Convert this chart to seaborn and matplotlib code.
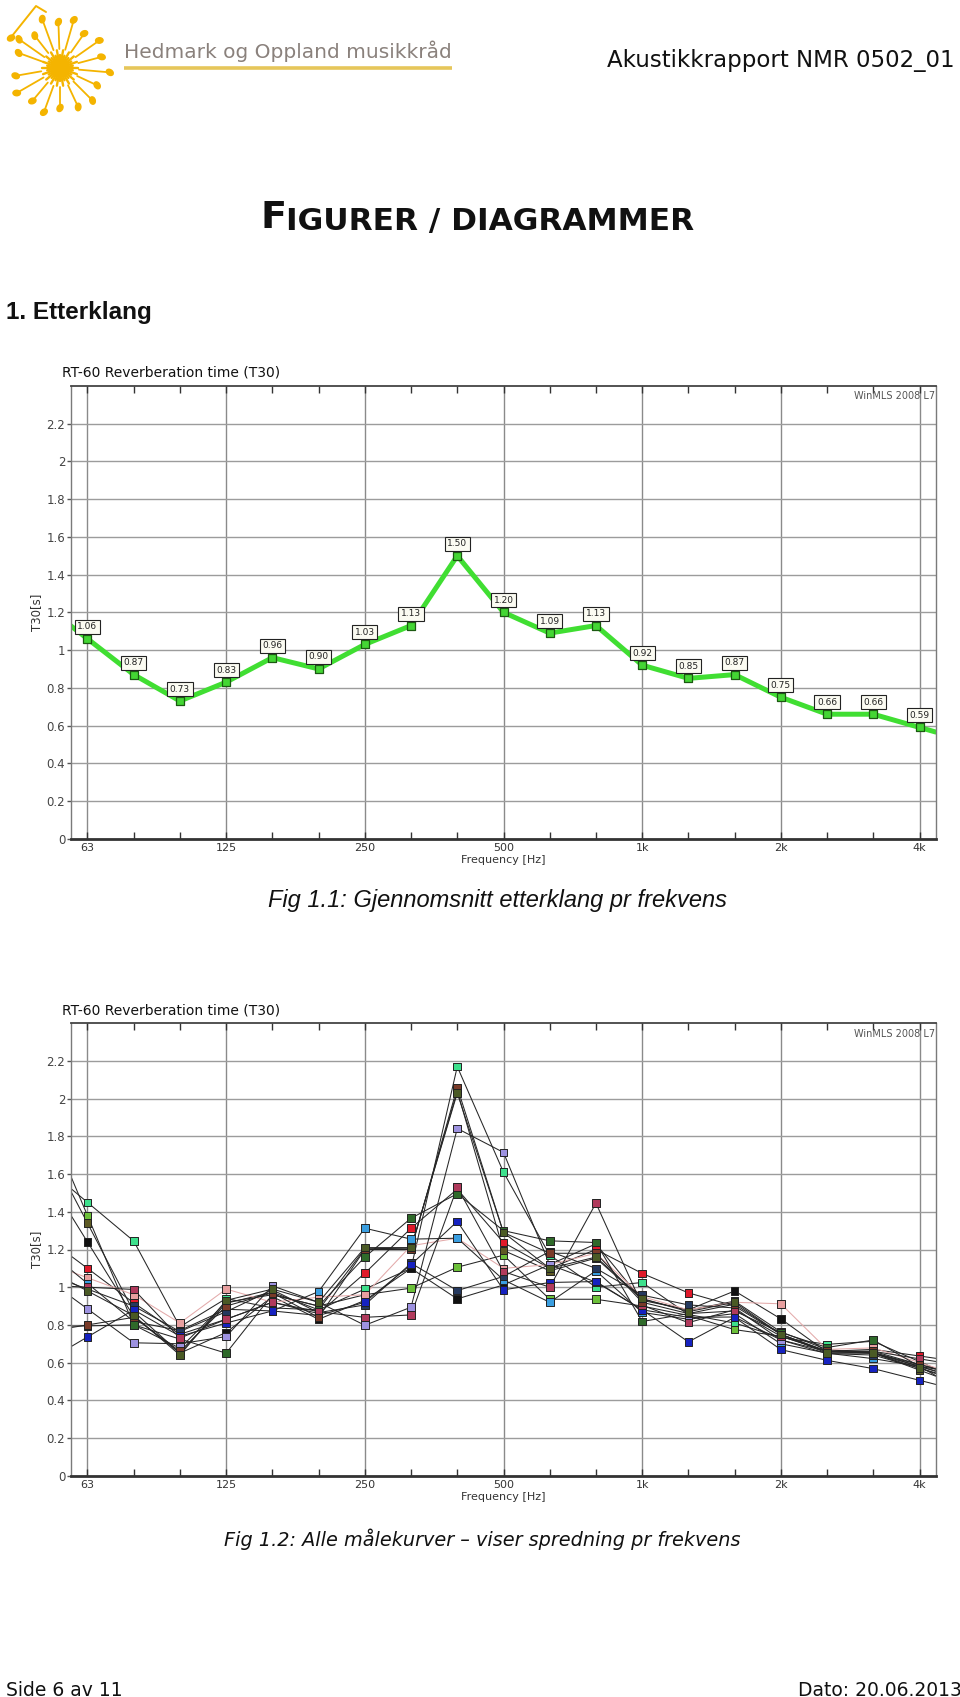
import numpy as np
import pandas as pd
import matplotlib
matplotlib.use("Agg")
import matplotlib.pyplot as plt
import seaborn as sns
from matplotlib.patches import Ellipse, Circle

sns.set_theme(style="white")
plt.rcParams['font.family'] = ['DejaVu Sans']

# ---------------- data ----------------
bands = ["63", "80", "100", "125", "160", "200", "250", "315", "400", "500",
         "630", "800", "1k", "1.25k", "1.6k", "2k", "2.5k", "3.15k", "4k"]
major_labels = ["63", "125", "250", "500", "1k", "2k", "4k"]

mean_t30 = [1.06, 0.87, 0.73, 0.83, 0.96, 0.90, 1.03, 1.13, 1.50, 1.20,
            1.09, 1.13, 0.92, 0.85, 0.87, 0.75, 0.66, 0.66, 0.59]

cyan_green = [1.45, 1.245, 0.79, 0.94, 0.89, 0.88, 0.99, 1.10, 2.17, 1.61, 1.17, 1.00, 1.025, 0.855, 0.81, 0.733, 0.697, 0.713, 0.605]
lime_green = [1.38, 0.80, 0.676, 0.92, 0.96, 0.90, 0.96, 0.995, 1.106, 1.17, 0.936, 0.936, 0.90, 0.85, 0.775, 0.74, 0.66, 0.65, 0.59]
olive = [1.34, 0.87, 0.65, 0.915, 0.973, 0.88, 1.204, 1.207, 2.04, 1.195, 1.087, 1.154, 0.936, 0.878, 0.926, 0.763, 0.669, 0.651, 0.56]
black = [1.24, 0.845, 0.65, 0.76, 0.95, 0.83, 0.93, 1.10, 0.938, 1.012, 1.12, 1.23, 0.93, 0.88, 0.98, 0.832, 0.655, 0.655, 0.58]
red = [1.10, 0.917, 0.75, 0.83, 0.92, 0.86, 1.074, 1.313, 1.52, 1.237, 1.10, 1.20, 1.073, 0.97, 0.90, 0.75, 0.66, 0.67, 0.635]
pink = [1.05, 0.96, 0.81, 0.99, 0.92, 0.947, 0.96, 1.22, 1.26, 1.10, 1.12, 1.18, 0.95, 0.88, 0.92, 0.912, 0.67, 0.678, 0.60]
light_blue = [1.02, 0.818, 0.77, 0.883, 0.874, 0.977, 1.313, 1.255, 1.26, 1.039, 0.92, 1.087, 0.866, 0.83, 0.86, 0.70, 0.65, 0.621, 0.58]
navy = [0.99, 0.90, 0.765, 0.87, 0.986, 0.865, 0.906, 1.127, 0.982, 1.057, 1.19, 1.10, 0.958, 0.906, 0.89, 0.72, 0.648, 0.64, 0.57]
lavender = [0.885, 0.705, 0.70, 0.738, 1.007, 0.92, 0.798, 0.894, 1.842, 1.715, 1.119, 1.027, 0.88, 0.84, 0.842, 0.72, 0.66, 0.65, 0.58]
dark_green = [0.795, 0.80, 0.725, 0.65, 0.96, 0.90, 1.16, 1.366, 1.496, 1.30, 1.246, 1.237, 0.818, 0.86, 0.874, 0.76, 0.68, 0.72, 0.58]
blue = [0.736, 0.88, 0.74, 0.81, 0.874, 0.85, 0.92, 1.12, 1.349, 0.986, 1.025, 1.03, 0.88, 0.71, 0.84, 0.669, 0.612, 0.568, 0.506]
maroon = [1.00, 0.988, 0.73, 0.83, 0.92, 0.87, 0.84, 0.853, 1.531, 1.083, 1.00, 1.446, 0.904, 0.812, 0.88, 0.74, 0.66, 0.66, 0.62]
brown = [0.80, 0.84, 0.66, 0.90, 0.97, 0.84, 1.20, 1.20, 2.06, 1.29, 1.18, 1.18, 0.92, 0.86, 0.91, 0.75, 0.66, 0.66, 0.59]
dark_olive = [0.98, 0.85, 0.64, 0.93, 0.99, 0.92, 1.21, 1.21, 2.03, 1.29, 1.10, 1.16, 0.94, 0.87, 0.92, 0.75, 0.65, 0.65, 0.57]

series = {
    "cyan_green": (cyan_green, "#3de08c"),
    "lime_green": (lime_green, "#6cc03a"),
    "olive": (olive, "#5e5a24"),
    "black": (black, "#111111"),
    "red": (red, "#e0192a"),
    "pink": (pink, "#e8a0a0"),
    "light_blue": (light_blue, "#3a9ee0"),
    "navy": (navy, "#25395e"),
    "lavender": (lavender, "#9d92e0"),
    "dark_green": (dark_green, "#2f6a2a"),
    "blue": (blue, "#1622c0"),
    "maroon": (maroon, "#b03a5c"),
    "brown": (brown, "#7a3a28"),
    "dark_olive": (dark_olive, "#4a5a25"),
}

# ---------------- geometry ----------------
W, H = 960, 1697
XLO, XHI = -0.363, 18.35
AX_L, AX_R = 70.7, 935.7


def extend(vals):
    """line continues linearly to the frame edges (as in the WinMLS plot)"""
    n = len(vals)
    x = [XLO] + list(range(n)) + [XHI]
    y = ([vals[0] + XLO * (vals[1] - vals[0])] + list(vals)
         + [vals[-1] + (XHI - (n - 1)) * (vals[-1] - vals[-2])])
    return x, y


fig = plt.figure(figsize=(W / 100, H / 100), dpi=100)
fig.patch.set_facecolor("white")

page = fig.add_axes([0, 0, 1, 1])
page.set_xlim(0, W)
page.set_ylim(H, 0)
page.axis("off")


def chart_axes(top_px, bottom_px):
    ax = fig.add_axes([AX_L / W, 1 - bottom_px / H, (AX_R - AX_L) / W, (bottom_px - top_px) / H])
    ax.set_facecolor("white")
    ax.set_xlim(XLO, XHI)
    ax.set_ylim(0, 2.4)
    yt = [round(v, 1) for v in np.arange(0, 2.21, 0.2)]
    ax.set_yticks(yt)
    ax.set_yticklabels(["%g" % v for v in yt])
    ax.set_xticks([0, 3, 6, 9, 12, 15, 18])
    ax.set_xticklabels(major_labels)
    ax.set_xticks(range(len(bands)), minor=True)
    ax.set_axisbelow(True)
    ax.grid(axis="y", which="major", color="#9c9c9c", lw=1.0)
    ax.grid(axis="x", which="major", color="#8a8a8a", lw=1.0)
    ax.tick_params(axis="x", which="both", direction="in", top=True, bottom=True,
                   length=5, width=1, color="#333333", labelsize=8, labelcolor="#333333", pad=3)
    ax.tick_params(axis="y", which="major", direction="out", left=True, length=3, width=1,
                   color="#555555", labelsize=8.5, labelcolor="#444444", pad=1)
    for s in ["left", "right"]:
        ax.spines[s].set_color("#7a7a7a")
        ax.spines[s].set_linewidth(1.0)
    ax.spines["top"].set_color("#444444")
    ax.spines["top"].set_linewidth(1.3)
    ax.spines["bottom"].set_color("#333333")
    ax.spines["bottom"].set_linewidth(2.0)
    ax.text(0.999, 0.988, "WinMLS 2008 L7", transform=ax.transAxes, ha="right", va="top",
            fontsize=7, color="#555555")
    return ax


def label_axes(ax):
    ax.set_xlabel("Frequency [Hz]", fontsize=8, color="#333333")
    ax.xaxis.set_label_coords(0.5, -0.036)
    ax.set_ylabel("T30[s]", fontsize=8.5, color="#333333")
    ax.yaxis.set_label_coords(-0.032, 0.5)


# ---------------- top chart ----------------
ax1 = chart_axes(386, 838.7)
xe, ye = extend(mean_t30)
sns.lineplot(x=xe, y=ye, ax=ax1, color="#40de32", lw=3.6, sort=False, estimator=None, zorder=2)
idx = np.arange(len(bands))
sns.scatterplot(x=idx, y=mean_t30, ax=ax1, marker="s", s=26, color="#44d634",
                edgecolor="#1c5a12", linewidth=0.9, zorder=3, legend=False)
for i, v in enumerate(mean_t30):
    ax1.annotate(f"{v:.2f}", (i, v), xytext=(0, 12), textcoords="offset pixels",
                 ha="center", va="center", fontsize=6.5, color="#222222", zorder=5,
                 bbox=dict(boxstyle="square,pad=0.28", fc="#fbfbf2", ec="#222222", lw=0.8))
label_axes(ax1)

# ---------------- bottom chart ----------------
ax2 = chart_axes(1023.3, 1475.7)
line_rows, pt_rows = [], []
for name, (vals, col) in series.items():
    xs, ys = extend(vals)
    for x, y in zip(xs, ys):
        line_rows.append((name, x, y))
    for i, v in enumerate(vals):
        pt_rows.append((name, i, v))
df_line = pd.DataFrame(line_rows, columns=["series", "band", "t30"])
df_pts = pd.DataFrame(pt_rows, columns=["series", "band", "t30"])
line_pal = {n: ("#e3aaaa" if n == "pink" else "#262626") for n in series}
mark_pal = {n: c for n, (v, c) in series.items()}
sns.lineplot(data=df_line, x="band", y="t30", hue="series", palette=line_pal, ax=ax2,
             lw=0.75, sort=False, estimator=None, legend=False, zorder=2)
sns.scatterplot(data=df_pts, x="band", y="t30", hue="series", palette=mark_pal, ax=ax2,
                marker="s", s=30, edgecolor="#222222", linewidth=0.7, legend=False, zorder=3)
label_axes(ax2)

# chart titles
page.text(61.7, 372, "RT-60 Reverberation time (T30)", va="center", ha="left", fontsize=10, color="#111111")
page.text(61.7, 1010, "RT-60 Reverberation time (T30)", va="center", ha="left", fontsize=10, color="#111111")

# ---------------- page header ----------------
sun = "#f4b400"
cx, cy = 60, 68
for k in range(36):
    a = 2 * np.pi * k / 36
    r2 = 18 if k % 2 == 0 else 13
    page.plot([cx, cx + r2 * np.cos(a)], [cy, cy + r2 * np.sin(a)], color=sun, lw=1.7, solid_capstyle="round")
page.add_patch(Circle((cx, cy), 9, color=sun))
stem_angles = [200, 215, 232, 250, 268, 286, 305, 325, 345, 5, 25, 45, 65, 90, 110, 130, 150, 170]
stem_lens = [44, 50, 41, 52, 46, 50, 42, 48, 43, 50, 41, 46, 43, 40, 47, 43, 50, 45]
for ang, ln in zip(stem_angles, stem_lens):
    a = np.deg2rad(ang)
    x0, y0 = cx + 19 * np.cos(a), cy + 19 * np.sin(a)
    x1, y1 = cx + ln * np.cos(a), cy + ln * np.sin(a)
    page.plot([x0, x1], [y0, y1], color=sun, lw=1.3)
    page.add_patch(Ellipse((x1, y1), 7.5, 5.5, angle=ang + 30, color=sun))
page.plot([12, 36, 46], [36, 6, 12], color=sun, lw=1.4)
page.add_patch(Ellipse((11, 38), 7.5, 5.5, angle=-30, color=sun))

page.text(124, 51, "Hedmark og Oppland musikkråd", fontsize=14.5, color="#8a817c", va="center", ha="left")
page.plot([124, 452], [68, 68], color="#e6c65a", lw=2.6, solid_capstyle="butt")
page.text(955, 60, "Akustikkrapport NMR 0502_01", fontsize=16.5, color="#111111", va="center", ha="right")

t1 = page.text(260, 228, "F", fontsize=27.5, fontweight="bold", color="#111111", va="baseline", ha="left")
page.annotate("IGURER / DIAGRAMMER", xy=(1, 0), xycoords=t1, fontsize=22.5, fontweight="bold",
              color="#111111", va="bottom", ha="left")

page.text(6, 319, "1. Etterklang", fontsize=17.5, fontweight="bold", color="#111111",
          va="baseline", ha="left", family=["Liberation Sans", "DejaVu Sans"])

page.text(268, 900, "Fig 1.1: Gjennomsnitt etterklang pr frekvens", fontsize=17, style="italic",
          color="#111111", va="center", ha="left", family=["Liberation Sans", "DejaVu Sans"])
page.text(224, 1539, "Fig 1.2: Alle målekurver – viser spredning pr frekvens", fontsize=13.9,
          style="italic", color="#111111", va="center", ha="left")

page.text(6, 1681, "Side 6 av 11", fontsize=13.5, color="#111111", va="top", ha="left")
page.text(962, 1681, "Dato: 20.06.2013", fontsize=13.5, color="#111111", va="top", ha="right")

fig.savefig("out.png", dpi=100, facecolor="white")
